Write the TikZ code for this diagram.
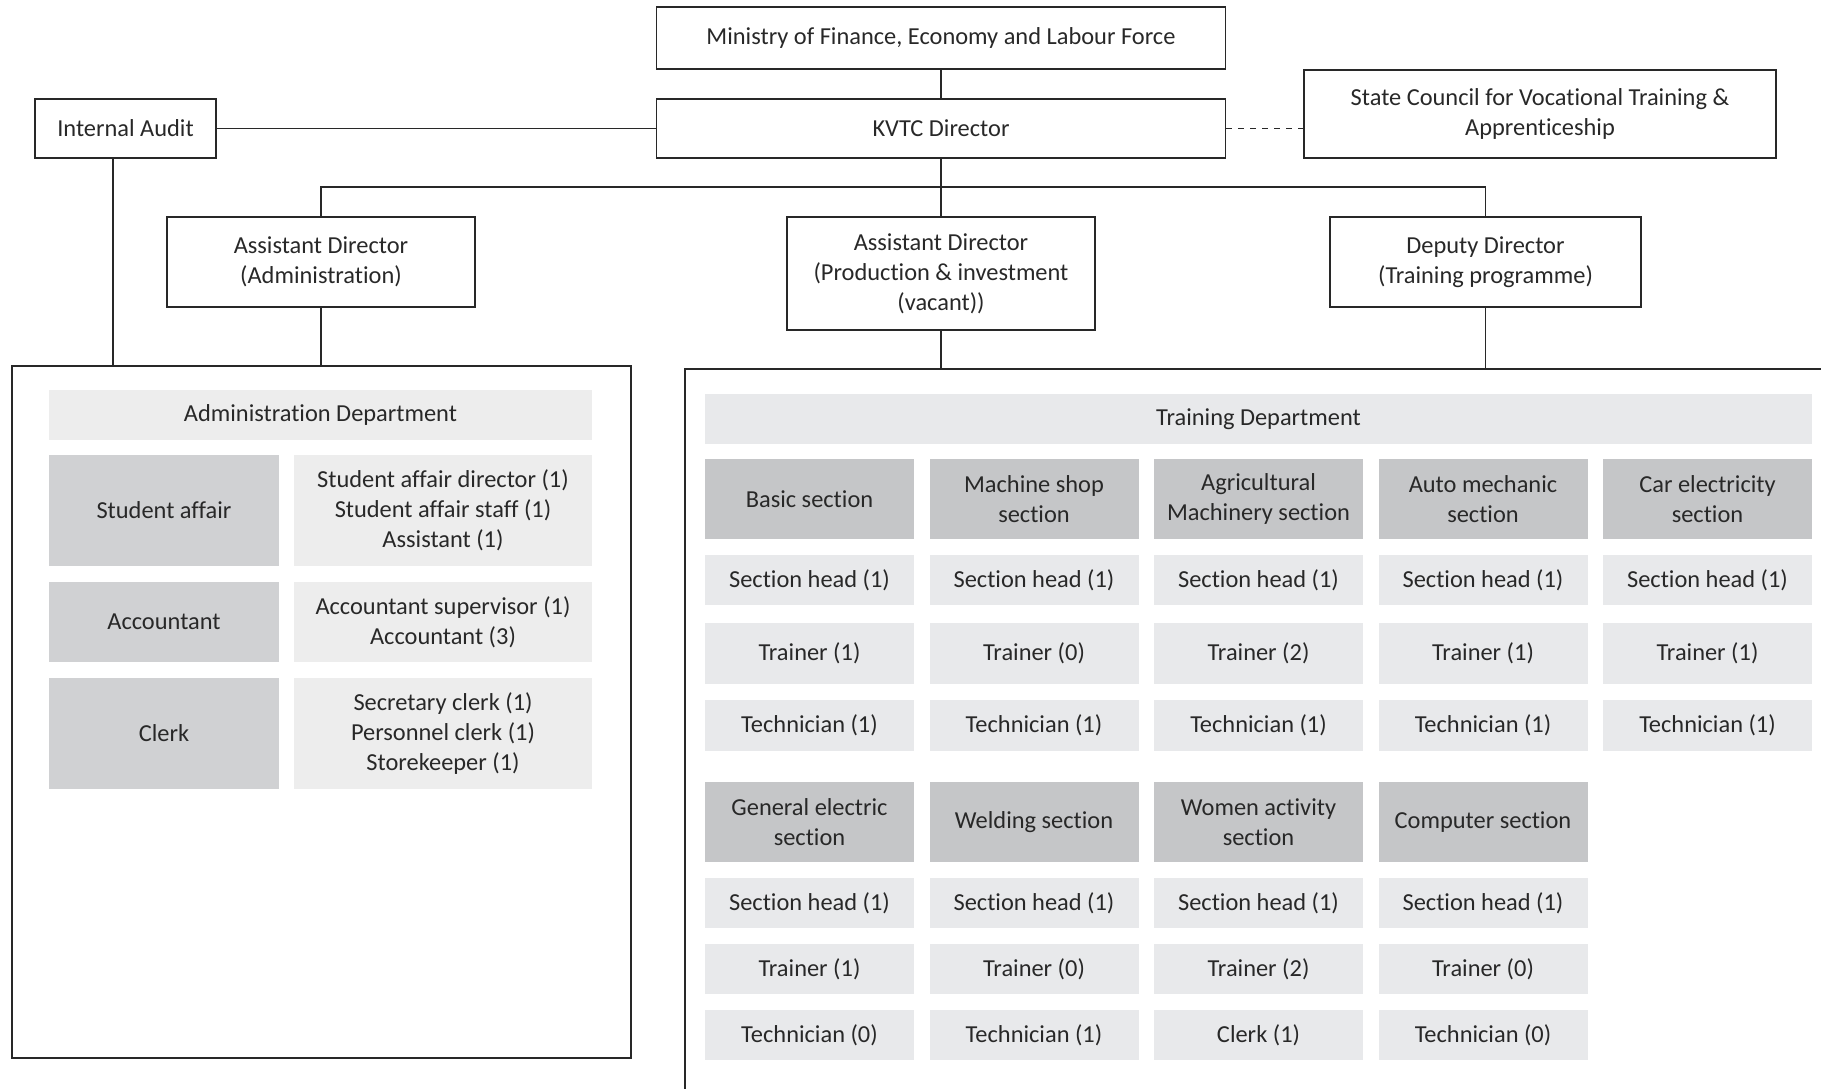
\documentclass[tikz,border=0pt]{standalone}
\usepackage{fontspec}
\setmainfont{Carlito}[Ligatures=NoCommon]
\definecolor{secgray}{RGB}{197,198,200}
\definecolor{cellgray}{RGB}{232,233,235}
\definecolor{admdark}{RGB}{208,209,211}
\definecolor{admlight}{RGB}{237,237,237}
\definecolor{ink}{RGB}{40,40,40}
\tikzset{
    unit/.style={draw=ink, line width=0.8pt, align=center, inner sep=0pt},
    frame/.style={draw=ink, line width=0.8pt, inner sep=0pt},
    link/.style={draw=ink, line width=0.6pt},
    sectionbox/.style={fill=secgray, align=center, inner sep=0pt, minimum width=104.5pt, minimum height=40pt},
    staffbox/.style={fill=cellgray, align=center, inner sep=0pt, minimum width=104.5pt},
}
\begin{document}
\begin{tikzpicture}[x=0.5pt, y=-0.5pt, text=ink, font=\fontsize{12.2}{15}\selectfont]
        \useasboundingbox (0,0) rectangle (1821,1088);
        % Top management
            \node[unit, minimum width=284.5pt, minimum height=31pt] (ministry) at (941,38) {Ministry of Finance, Economy and Labour Force};
            \node[unit, minimum width=284.5pt, minimum height=29.5pt] (director) at (941,128.5) {KVTC Director};
            \node[unit, minimum width=90.5pt, minimum height=29.5pt] (audit) at (125.5,128.5) {Internal Audit};
            \node[unit, minimum width=236pt, minimum height=44pt] (council) at (1540,114) {State Council for Vocational Training \&\\Apprenticeship};
            \node[unit, minimum width=154pt, minimum height=45pt] (asstadmin) at (321,262) {Assistant Director\\(Administration)};
            \node[unit, minimum width=154pt, minimum height=56.5pt] (asstprod) at (941,273.5) {Assistant Director\\(Production \& investment\\(vacant))};
            \node[unit, minimum width=155.5pt, minimum height=45pt] (deputy) at (1485.5,262) {Deputy Director\\(Training programme)};
        % Departments
            \node[frame, minimum width=309.5pt, minimum height=346pt] (admin) at (321.5,712) {};
            \begin{scope}
                \clip (0,0) rectangle (1821,1088);
                \node[frame, minimum width=607.5pt, minimum height=390.5pt] (training) at (1292.5,759.5) {};
            \end{scope}
        % Lines
            \coordinate (bus) at (941,187);
            \coordinate (auditfoot) at ([xshift=-6.25pt]audit.south);
            \draw[link] (ministry) -- (director);
            \draw[link] (audit) -- (director);
            \draw[link, dashed] (director.east) -- (director.east -| council.west);
            \draw[link] (director) -- (asstprod);
            \draw[link] (asstadmin.north) |- (bus) -| (deputy.north);
            \draw[link] (auditfoot) -- (auditfoot |- admin.north);
            \draw[link] (asstadmin.south) -- (asstadmin.south |- admin.north);
            \draw[link] (asstprod.south) -- (asstprod.south |- training.north);
            \draw[link] (deputy.south) -- (deputy.south |- training.north);
        % Administration department
            \node[fill=admlight, minimum width=271.5pt, minimum height=25pt, inner sep=0pt] (adminhead) at (320.5,415) {Administration Department};
            \foreach \name/\unitname/\staff/\ypos/\h in {
                    student/Student affair/{Student affair director (1)\\Student affair staff (1)\\Assistant (1)}/510.5/55.5,
                    account/Accountant/{Accountant supervisor (1)\\Accountant (3)}/622/40,
                    clerk/Clerk/{Secretary clerk (1)\\Personnel clerk (1)\\Storekeeper (1)}/733.5/55.5}{
                \node[fill=admdark, minimum width=115pt, minimum height=\h pt, inner sep=0pt] (\name) at (164,\ypos) {\unitname};
                \node[fill=admlight, minimum width=149pt, minimum height=\h pt, inner sep=0pt, align=center] (\name-staff) at (443,\ypos) {\staff};
            }
        % Training department
            \node[fill=cellgray, minimum width=553.5pt, minimum height=25pt, inner sep=0pt] (trainhead) at (1258.5,419) {Training Department};
            \foreach \name/\title/\trainer/\tech [count=\i from 0] in {
                    basic/{Basic section}/1/1,
                    machine/{Machine shop\\section}/0/1,
                    agri/{Agricultural\\Machinery section}/2/1,
                    auto/{Auto mechanic\\section}/1/1,
                    carelec/{Car electricity\\section}/1/1}{
                \node[sectionbox] (\name) at (809.5+224.5*\i,499) {\title};
                \node[staffbox, minimum height=25pt] (\name-head) at (809.5+224.5*\i,580) {Section head (1)};
                \node[staffbox, minimum height=30.5pt] (\name-trainer) at (809.5+224.5*\i,653.5) {Trainer (\trainer)};
                \node[staffbox, minimum height=25.5pt] (\name-tech) at (809.5+224.5*\i,725.5) {Technician (\tech)};
            }
            \foreach \name/\title/\trainer/\last [count=\i from 0] in {
                    genelec/{General electric\\section}/1/{Technician (0)},
                    welding/{Welding section}/0/{Technician (1)},
                    women/{Women activity\\section}/2/{Clerk (1)},
                    computer/{Computer section}/0/{Technician (0)}}{
                \node[sectionbox] (\name) at (809.5+224.5*\i,822) {\title};
                \node[staffbox, minimum height=25pt] (\name-head) at (809.5+224.5*\i,903) {Section head (1)};
                \node[staffbox, minimum height=25pt] (\name-trainer) at (809.5+224.5*\i,969) {Trainer (\trainer)};
                \node[staffbox, minimum height=25pt] (\name-tech) at (809.5+224.5*\i,1035) {\last};
            }
        \end{tikzpicture}
\end{document}
